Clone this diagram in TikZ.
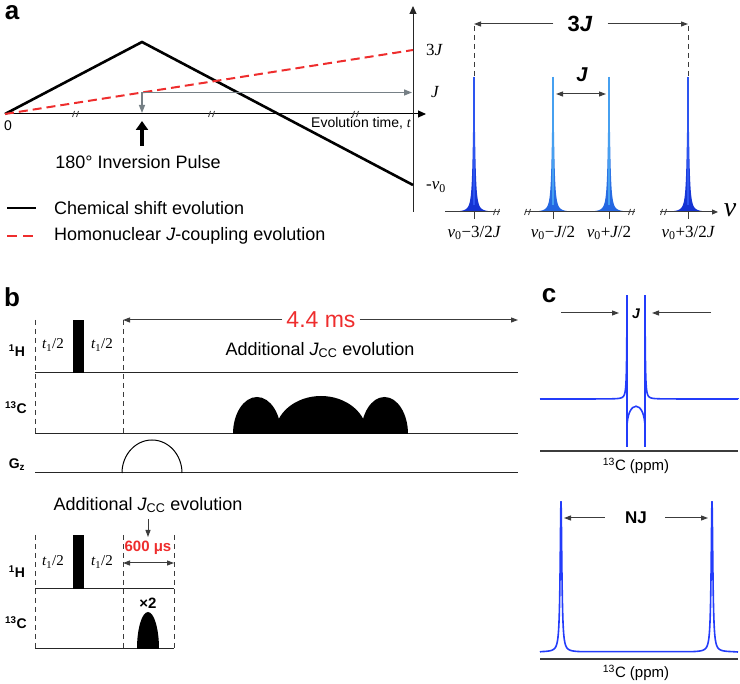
\documentclass[tikz,border=0pt]{standalone}
\usepackage{fontspec}
\setmainfont{Liberation Sans}
\newfontfamily\tms{Liberation Serif}
\usetikzlibrary{arrows.meta}
\definecolor{redd}{RGB}{238,45,45}
\definecolor{gry}{RGB}{118,128,134}
\definecolor{pkdark}{RGB}{20,50,210}
\definecolor{pkmid}{RGB}{45,85,240}
\definecolor{inlight}{RGB}{70,160,240}
\definecolor{indark}{RGB}{35,100,225}
\definecolor{cblue}{RGB}{35,60,250}
\definecolor{axg}{RGB}{60,60,60}
\newcommand\fs[1]{\fontsize{#1}{#1}\selectfont}
\newcommand\halfell[5][fill]{%
  \pgfmathsetmacro\hxm{(#2+#3)/2}%
  \pgfmathsetmacro\hax{(#3-#2)/2*0.552}%
  \pgfmathsetmacro\hbh{#5*0.552}%
  \path[#1] (#2,#4) .. controls (#2,#4-\hbh) and (\hxm-\hax,#4-#5) .. (\hxm,#4-#5) .. controls (\hxm+\hax,#4-#5) and (#3,#4-\hbh) .. (#3,#4);}
\newcommand\brkmark[2]{\draw[brk] (#1-3.5,#2+3) -- (#1-1.5,#2-3) (#1+0.5,#2+3) -- (#1+2.5,#2-3);}
\tikzset{
 panel/.style={inner sep=0, font=\fs{26}\bfseries},
 t14/.style={inner sep=0, font=\fs{14}},
 t18/.style={inner sep=0, font=\fs{18}},
 tm/.style={inner sep=0, font=\fs{17}\tms},
 lab/.style={inner sep=0, font=\fs{14}\bfseries},
 tt/.style={inner sep=0, font=\fs{15}\tms\itshape},
 dsh/.style={axg, line width=0.9pt, dash pattern=on 5pt off 4pt},
 base/.style={black!85, line width=1pt},
 arr/.style={axg, line width=1pt, -{Triangle[length=7pt,width=5pt]}},
 darr/.style={axg, line width=1pt, {Triangle[length=7pt,width=5pt]}-{Triangle[length=7pt,width=5pt]}},
 brk/.style={black!75, line width=0.8pt},
 cl/.style={cblue, line width=1.6pt},
 declare function={lor(\d,\w)=1/(1+(\d/\w)*(\d/\w));},
}
\begin{document}
\begin{tikzpicture}[x=1pt,y=-1pt]
\useasboundingbox (0,0) rectangle (740,684);
% ================= panel a =================
\node[panel] (la) at (12,13) {a};
\coordinate (O) at (5,114);
\coordinate (xend) at (426,114);
\coordinate (ybot) at (413,212);
\coordinate (ytop) at (413,6);
\draw[black, line width=1pt, -{Triangle[length=8pt,width=7pt]}] (O) -- (xend);
\draw[black!85, line width=1pt, -{Triangle[length=8pt,width=7pt]}] (ybot) -- (ytop);
\brkmark{76}{114}\brkmark{212}{114}\brkmark{356}{114}
\coordinate (peak) at (142,42);
\coordinate (endb) at (413,185);
\coordinate (endr) at (413,50);
\draw[line width=2.6pt] (O) -- (peak) -- (endb);
\draw[redd, line width=2pt, dash pattern=on 9pt off 5pt] (O) -- (endr);
\coordinate (gs) at (142,92.5);
\coordinate (ge) at (412,92.5);
\coordinate (gd) at (142,113);
\draw[gry, line width=1.4pt, -{Triangle[length=8pt,width=6pt]}] (gs) -- (ge);
\draw[gry, line width=1.4pt, -{Triangle[length=8pt,width=6pt]}] (gs) -- (gd);
\coordinate (ps) at (142,146);
\coordinate (pe) at (142,121);
\draw[line width=4pt, -{Triangle[length=9pt,width=12pt]}] (ps) -- (pe);
\node[t14] (zero) at (8,126) {0};
\node[t14, anchor=east] (evo) at (411,123) {Evolution time, {\tms\itshape t}};
\node[t18] (inv) at (138,162) {180° Inversion Pulse};
\node[tm, anchor=west] (y3J) at (426,50) {3\itshape J};
\node[tm, anchor=west] (yJ) at (431,92) {\itshape J};
\node[tm, anchor=west] (ynu) at (426,187) {-\itshape ν\textsubscript{\upshape 0}};
% legend
\draw[line width=2.6pt] (7,208) -- (36,208);
\node[t18, anchor=west] (leg1) at (54,208) {Chemical shift evolution};
\draw[redd, line width=2pt, dash pattern=on 10pt off 6pt] (7,236) -- (33,236);
\node[t18, anchor=west] (leg2) at (54,236) {Homonuclear \textit{J}-coupling evolution};
% spectrum a
\foreach \px/\ct/\cb in {474/pkmid/pkdark,553/inlight/indark,609/inlight/indark,688/pkmid/pkdark}{
  \shade[top color=\ct, bottom color=\cb] plot[domain=-1:1, samples=121, variable=\t] ({\px+24*\t*\t*\t},{212-135*lor(24*\t*\t*\t,1.2)}) -- cycle;
  \draw[\ct, line width=1.2pt] (\px,77) -- (\px,205);
  \draw[axg, line width=1pt] (\px,212) -- (\px,219);
}
\draw[axg, line width=1pt] (445,212) -- (500,212);
\draw[axg, line width=1pt] (525,212) -- (635,212);
\draw[axg, line width=1pt, -{Triangle[length=6pt,width=5pt]}] (660,212) -- (718,212);
\brkmark{497}{212}\brkmark{528}{212}\brkmark{632}{212}\brkmark{664}{212}
\node[tm] (l1) at (474,233) {\itshape ν\textsubscript{\upshape 0}\upshape −3/2\itshape J};
\node[tm] (l2) at (553,233) {\itshape ν\textsubscript{\upshape 0}\upshape −\itshape J\upshape /2};
\node[tm] (l3) at (609,233) {\itshape ν\textsubscript{\upshape 0}\upshape +\itshape J\upshape /2};
\node[tm] (l4) at (688,233) {\itshape ν\textsubscript{\upshape 0}\upshape +3/2\itshape J};
\node[inner sep=0, font=\fs{28}\tms\itshape] (nu) at (730,210) {ν};
\draw[dsh] (474,26) -- (474,77);
\draw[dsh] (688,26) -- (688,77);
\node[inner sep=0, font=\fs{22}\bfseries] (t3J) at (580,24) {3\textit{J}};
\coordinate (a3l) at (474,24);
\coordinate (a3r) at (688,24);
\draw[arr, shorten <=14pt] (t3J) -- (a3l);
\draw[arr, shorten <=15pt] (t3J) -- (a3r);
\coordinate (aJl) at (556,94);
\coordinate (aJr) at (606,94);
\draw[darr] (aJl) -- (aJr);
\node[inner sep=0, font=\fs{20}\bfseries\itshape] (aJ) at (582,75) {J};
% ================= panel b =================
\node[panel] (lb) at (12,297) {b};
\draw[dsh] (35,320) -- (35,434);
\draw[dsh] (123,320) -- (123,434);
\draw[base] (35,373) -- (518,373);
\draw[base] (35,434) -- (518,434);
\draw[base] (35,473) -- (518,473);
\fill (73,320) rectangle (84,373);
\halfell{233}{281}{434}{37}
\halfell{275}{367}{434}{38}
\halfell{361}{408}{434}{37}
\halfell[draw, black, line width=1pt]{122}{182}{473}{33}
\node[lab] (h1) at (17,351) {\textsuperscript{1}H};
\node[lab] (c1) at (16,408) {\textsuperscript{13}C};
\node[lab] (gz) at (17,465) {G\textsubscript{z}};
\node[tt] (ta) at (53,345) {t\textsubscript{\upshape 1}\upshape /2};
\node[tt] (tb) at (102,345) {t\textsubscript{\upshape 1}\upshape /2};
\node[inner sep=0, font=\fs{23}, text=redd] (ms) at (321,320) {4.4 ms};
\coordinate (msl) at (123,320);
\coordinate (msr) at (518,320);
\draw[arr, shorten <=4pt] (ms) -- (msl);
\draw[arr, shorten <=4pt] (ms) -- (msr);
\node[t18] (add1) at (320,350) {Additional \textit{J}\textsubscript{CC} evolution};
% bottom sequence
\node[t18] (add2) at (148,505) {Additional \textit{J}\textsubscript{CC} evolution};
\coordinate (dn1) at (148,519);
\coordinate (dn2) at (148,537);
\draw[arr] (dn1) -- (dn2);
\node[inner sep=0, font=\fs{15}\bfseries, text=redd] (us) at (148,548) {600 μs};
\coordinate (dl) at (123,563);
\coordinate (dr) at (174,563);
\draw[darr] (dl) -- (dr);
\draw[dsh] (35,535) -- (35,649);
\draw[dsh] (123,535) -- (123,649);
\draw[dsh] (174,535) -- (174,649);
\draw[base] (35,589) -- (174,589);
\draw[base] (35,649) -- (174,649);
\fill (73,535) rectangle (84,589);
\halfell{137}{159}{649}{37}
\node[inner sep=0, font=\fs{15}\bfseries] (x2) at (148,603) {×2};
\node[lab] (h2) at (17,572) {\textsuperscript{1}H};
\node[lab] (c2) at (16,623) {\textsuperscript{13}C};
\node[tt] (tc) at (53,562) {t\textsubscript{\upshape 1}\upshape /2};
\node[tt] (td) at (102,562) {t\textsubscript{\upshape 1}\upshape /2};
% ================= panel c =================
\node[panel] (lc) at (549,296) {c};
\draw[cl] (540,399) -- plot[domain=0:1, samples=80, variable=\t] ({627.68-(0.68+86*(1-\t)*(1-\t)*(1-\t))},{399-48/((0.68+86*(1-\t)*(1-\t)*(1-\t))*(0.68+86*(1-\t)*(1-\t)*(1-\t)))}) -- (627,447);
\draw[cl] (738,399) -- plot[domain=0:1, samples=80, variable=\t] ({644.32+(0.68+93*(1-\t)*(1-\t)*(1-\t))},{399-48/((0.68+93*(1-\t)*(1-\t)*(1-\t))*(0.68+93*(1-\t)*(1-\t)*(1-\t)))}) -- (645,447);
\draw[cl] (627,428) .. controls (627,399) and (645,399) .. (645,428);
\draw[axg, line width=1.5pt] (540,451) -- (738,451);
\node[inner sep=0, font=\fs{15}] (ppm1) at (636,466) {\textsuperscript{13}C (ppm)};
\node[inner sep=0, font=\fs{14}\bfseries\itshape] (cJ) at (636,314) {J};
\coordinate (cJa) at (561,313);
\coordinate (cJb) at (619,313);
\coordinate (cJc) at (711,313);
\coordinate (cJd) at (652,313);
\draw[arr] (cJa) -- (cJb);
\draw[arr] (cJc) -- (cJd);
\draw[cl] (540,652) -- plot[domain=-1:1, samples=121, variable=\t] ({561+20*\t*\t*\t},{652-150*lor(20*\t*\t*\t,1.0)}) -- plot[domain=-1:1, samples=121, variable=\t] ({712+20*\t*\t*\t},{652-150*lor(20*\t*\t*\t,1.0)}) -- (738,652);
\draw[axg, line width=1.5pt] (540,659) -- (738,659);
\node[inner sep=0, font=\fs{15}] (ppm2) at (636,673) {\textsuperscript{13}C (ppm)};
\node[inner sep=0, font=\fs{17}\bfseries] (NJ) at (636,518) {NJ};
\coordinate (nl) at (564,518);
\coordinate (nr) at (708,518);
\draw[arr, shorten <=20pt] (NJ) -- (nl);
\draw[arr, shorten <=18pt] (NJ) -- (nr);
\end{tikzpicture}
\end{document}
